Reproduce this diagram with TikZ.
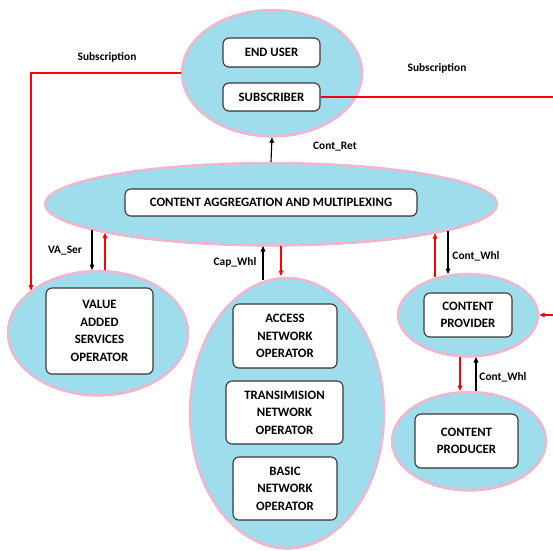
\documentclass[tikz,border=0pt]{standalone}
\usepackage{fontspec}
\setmainfont{Carlito}
\usetikzlibrary{shapes.geometric,arrows.meta,shadows}
\definecolor{ellfill}{HTML}{9EDDEC}
\definecolor{ellpink}{HTML}{F2B5D0}
\definecolor{boxline}{HTML}{3A3A3A}
\definecolor{linkred}{HTML}{FF0000}
\tikzset{
  ell/.style={ellipse, draw=ellpink, line width=2.4pt, fill=ellfill, inner sep=0pt,
    drop shadow={shadow xshift=0.6pt, shadow yshift=-1.6pt, opacity=0.45, fill=gray}},
  opbox/.style={rectangle, rounded corners=6pt, draw=boxline, line width=1.1pt, fill=white,
    inner sep=0pt, align=center, font=\bfseries\fontsize{12.8}{17.5}\selectfont,
    drop shadow={shadow xshift=0.4pt, shadow yshift=-0.8pt, opacity=0.35, fill=gray}},
  lbl/.style={font=\bfseries\fontsize{11.4}{13}\selectfont, inner sep=0pt},
  arr/.style={line width=1.1pt, -{Triangle[length=5.5pt,width=4.6pt]}},
  blk/.style={arr, draw=black},
  rd/.style={arr, draw=linkred},
}
\begin{document}
\begin{tikzpicture}[x=1pt,y=-1pt]
\useasboundingbox (0,0) rectangle (553,550);
% ellipses
\node[ell, minimum width=180pt, minimum height=126pt] (T) at (272,73) {};
\node[ell, minimum width=452pt, minimum height=82pt] (M) at (271,204) {};
\node[ell, minimum width=180pt, minimum height=124pt] (V) at (98,333) {};
\node[ell, minimum width=194pt, minimum height=270pt] (N) at (287,413) {};
\node[ell, minimum width=140pt, minimum height=82pt] (P) at (468,315) {};
\node[ell, minimum width=154pt, minimum height=98pt] (Q) at (469,441) {};
% boxes
\node[opbox, minimum width=97pt, minimum height=29pt] (eu) at (271.5,52.5) {END USER};
\node[opbox, minimum width=97pt, minimum height=28pt] (sub) at (271.5,97) {SUBSCRIBER};
\node[opbox, minimum width=292pt, minimum height=27pt] (cam) at (271,202.5) {CONTENT AGGREGATION AND MULTIPLEXING};
\node[opbox, minimum width=107pt, minimum height=86pt] (vas) at (99.5,331) {VALUE\\ADDED\\SERVICES\\OPERATOR};
\node[opbox, minimum width=104pt, minimum height=64pt] (acc) at (285,336) {ACCESS\\NETWORK\\OPERATOR};
\node[opbox, minimum width=117pt, minimum height=63pt] (tra) at (284.5,412.5) {TRANSIMISION\\NETWORK\\OPERATOR};
\node[opbox, minimum width=104pt, minimum height=63pt] (bas) at (285,488.5) {BASIC\\NETWORK\\OPERATOR};
\node[opbox, minimum width=88pt, minimum height=44pt] (cp) at (468,315) {CONTENT\\PROVIDER};
\node[opbox, minimum width=103pt, minimum height=54pt] (cpr) at (466.5,441) {CONTENT\\PRODUCER};
% free ends
\coordinate (subR) at (553,97);
\coordinate (inR) at (553,315);
% connectors
\draw[blk] (M.north) -- (T.south);
\draw[draw=linkred, line width=1.1pt] (sub.east) -- (subR);
\draw[rd] (T.west) -| ([shift={(-67,-42.5)}]V.center);
\draw[blk] ([shift={(-179,26)}]M.center) -- ([shift={(-6,-63)}]V.center);
\draw[rd] ([shift={(7,-63)}]V.center) -- ([shift={(-166,28.8)}]M.center);
\draw[blk] ([shift={(-24,-133.5)}]N.center) -- ([shift={(-8,42)}]M.center);
\draw[rd] ([shift={(10,42)}]M.center) -- ([shift={(-6,-137)}]N.center);
\draw[rd] ([shift={(-33,-38)}]P.center) -- ([shift={(164,29.2)}]M.center);
\draw[blk] ([shift={(177,26.5)}]M.center) -- ([shift={(-20,-41)}]P.center);
\draw[rd] (inR) -- (P.east);
\draw[rd] ([shift={(-8,42)}]P.center) -- ([shift={(-9,-50)}]Q.center);
\draw[blk] ([shift={(7,-50)}]Q.center) -- ([shift={(8,42)}]P.center);
% labels
\node[lbl] (l1) at (107,57) {Subscription};
\node[lbl] (l2) at (437,68) {Subscription};
\node[lbl] (l3) at (335,147) {Cont\_Ret};
\node[lbl] (l4) at (65,251) {VA\_Ser};
\node[lbl] (l5) at (235,262) {Cap\_Whl};
\node[lbl] (l6) at (476,256) {Cont\_Whl};
\node[lbl] (l7) at (503,377) {Cont\_Whl};
\end{tikzpicture}
\end{document}
